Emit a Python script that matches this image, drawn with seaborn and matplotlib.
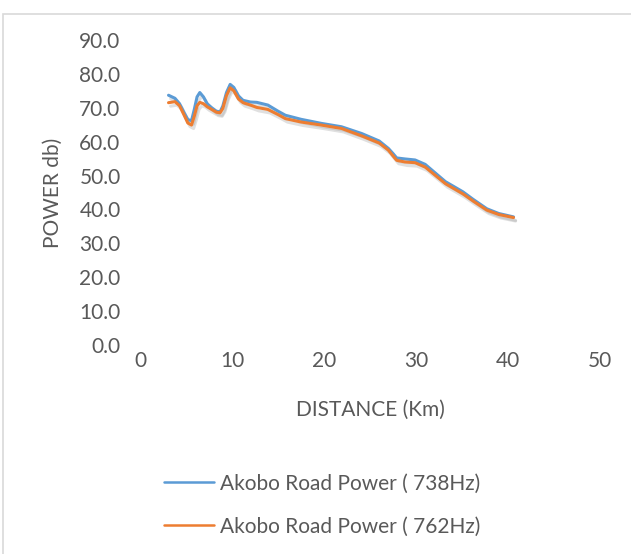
import numpy as np
import pandas as pd
import matplotlib
matplotlib.use("Agg")
import matplotlib.pyplot as plt
import matplotlib.patheffects as pe
from matplotlib.patches import Rectangle
import seaborn as sns

# Distance along Akobo Road (km)
distance_km = [3.1, 3.8, 4.3, 4.8, 5.2, 5.6, 5.9, 6.2, 6.5, 6.9, 7.3, 7.8, 8.3, 8.7,
               9.0, 9.4, 9.8, 10.2, 10.7, 11.2, 12.0, 12.7, 13.9, 15.0, 15.8, 17.5,
               19.7, 21.9, 24.1, 26.0, 27.0, 27.5, 27.9, 28.8, 29.9, 31.0, 33.2,
               35.1, 36.2, 37.7, 39.0, 40.6]

# Received power (dB) at 738 Hz
power_738 = [73.7, 72.8, 71.2, 68.5, 66.5, 66.2, 69.5, 73.2, 74.5, 73.2, 71.2, 70.0, 69.0, 68.8,
             70.5, 74.5, 76.9, 76.0, 73.5, 72.2, 71.7, 71.6, 70.8, 69.0, 67.8, 66.6,
             65.4, 64.4, 62.4, 60.2, 58.0, 56.5, 55.2, 54.9, 54.6, 53.3, 48.2,
             45.2, 43.0, 40.2, 38.8, 37.8]

# Received power (dB) at 762 Hz
power_762 = [71.5, 71.8, 70.6, 67.8, 65.5, 64.9, 67.5, 70.6, 71.6, 71.2, 70.3, 69.5, 68.7, 68.5,
             69.8, 73.6, 75.9, 75.0, 72.6, 71.5, 70.8, 70.1, 69.5, 68.0, 66.8, 65.8,
             64.9, 63.9, 61.7, 59.6, 57.5, 55.8, 54.5, 54.0, 53.8, 52.5, 47.6,
             44.6, 42.5, 39.8, 38.5, 37.6]

series_names = ["Akobo Road Power ( 738Hz)", "Akobo Road Power ( 762Hz)"]
series_colors = ["#5B9BD5", "#ED7D31"]

x_ticks = [0, 10, 20, 30, 40, 50]
y_ticks = [0, 10, 20, 30, 40, 50, 60, 70, 80, 90]

df = pd.concat([
    pd.DataFrame({"distance": distance_km, "power": power_738, "series": series_names[0]}),
    pd.DataFrame({"distance": distance_km, "power": power_762, "series": series_names[1]}),
], ignore_index=True)

sns.set_theme(style="white")
plt.rcParams["font.family"] = ["Lato", "DejaVu Sans"]

W, H = 631, 554
FS = 15
TXT = "#595959"
fig = plt.figure(figsize=(W / 100, H / 100), dpi=100)
ax_l, ax_b, ax_w, ax_h = 140, 345, 460, 305
ax = fig.add_axes([ax_l / W, 1 - ax_b / H, ax_w / W, ax_h / H])

sns.lineplot(data=df, x="distance", y="power", hue="series", hue_order=series_names,
             palette=series_colors, sort=False, linewidth=2.2, ax=ax, legend=False)

for line in ax.lines:
    line.set_path_effects([
        pe.SimpleLineShadow(offset=(1.5, -2.5), shadow_color="#999999", alpha=0.3),
        pe.Normal(),
    ])
    line.set_solid_joinstyle("round")
    line.set_solid_capstyle("round")

ax.set_xlim(0, 50)
ax.set_ylim(0, 90)
ax.set_xticks(x_ticks)
ax.set_yticks(y_ticks)
ax.set_yticklabels([f"{v:.1f}" for v in y_ticks])
for s in ax.spines.values():
    s.set_visible(False)
ax.tick_params(axis="both", length=0, labelsize=FS, colors=TXT)
ax.tick_params(axis="x", pad=4)
ax.tick_params(axis="y", pad=14)
ax.set_xlabel("DISTANCE (Km)", fontsize=FS, color=TXT)
ax.set_ylabel("POWER db)", fontsize=FS, color=TXT)
ax.xaxis.set_label_coords(0.5, -(410 - ax_b) / ax_h, transform=ax.transAxes)
ax.yaxis.set_label_coords(-(ax_l - 53) / ax_w, 0.5, transform=ax.transAxes)
ax.xaxis.label.set_va("center")
ax.yaxis.label.set_va("center")

# Legend below the plot
handles = [plt.Line2D([], [], color=c, linewidth=1.8) for c in series_colors]
fig.legend(handles, series_names, loc="upper left", bbox_to_anchor=(145 / W, 1 - 455 / H),
           frameon=False, fontsize=FS, labelcolor=TXT, handlelength=2.4,
           handletextpad=0.3, labelspacing=1.1)

# Chart area border
fig.patches.append(Rectangle((3 / W, -0.02), 1.0, 1 - 14 / H + 0.02, transform=fig.transFigure,
                             fill=False, edgecolor="#D9D9D9", linewidth=1.2))

fig.savefig("out.png", dpi=100)
